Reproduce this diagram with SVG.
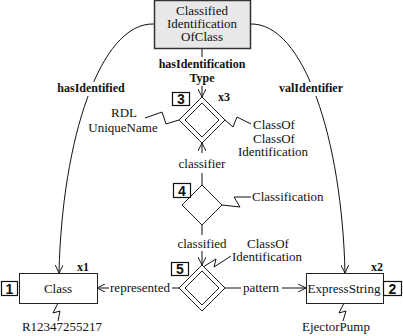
<svg xmlns="http://www.w3.org/2000/svg" width="403" height="336" viewBox="0 0 403 336" font-family="Liberation Serif, serif">
<style>
text{font-family:'Liberation Serif',serif;font-size:13px;fill:#111}
text.b{font-weight:bold;font-size:12px}
text.halo{stroke:#fff;stroke-width:8px;paint-order:stroke;stroke-linejoin:round}
text.num{font-family:'Liberation Sans',sans-serif;font-weight:bold;font-size:14px}
.ln{fill:none;stroke:#111;stroke-width:1}
.box{fill:#fff;stroke:#222;stroke-width:1}
.nb{fill:#fff;stroke:#111;stroke-width:1.2}
.dia{fill:#fff;stroke:#222;stroke-width:1}
</style>
<defs>
<marker id="arr" viewBox="0 0 10 10" refX="10" refY="5" markerWidth="8" markerHeight="8" markerUnits="userSpaceOnUse" orient="auto">
<path d="M0,0 L10,5 L0,10" fill="none" stroke="#111" stroke-width="1.2"/>
</marker>
</defs>
<g id="connectors">
<path class="ln" d="M154,24 C100,22 62,140 59,273" marker-end="url(#arr)"/>
<path class="ln" d="M250,24 C304,22 342,140 345,273" marker-end="url(#arr)"/>
<path class="ln" d="M202,48 V57"/>
<path class="ln" d="M202,86 V97" marker-end="url(#arr)"/>
<path class="ln" d="M202,185 V173"/>
<path class="ln" d="M202,153 V143" marker-end="url(#arr)"/>
<path class="ln" d="M202,225 V235"/>
<path class="ln" d="M202,251 V265" marker-end="url(#arr)"/>
<path class="ln" d="M179,288 H172"/>
<path class="ln" d="M109,288 H97" marker-end="url(#arr)"/>
<path class="ln" d="M225,288 H241"/>
<path class="ln" d="M282,288 H306" marker-end="url(#arr)"/>
<path class="ln" d="M179,120 L166,124 L162,112 L145,118"/>
<path class="ln" d="M225,120 L233,127 L237,117 L251,124"/>
<path class="ln" d="M222,205 L240,207 L234,197 L251,197"/>
<path class="ln" d="M203,267 L216,259 L214,267 L231,256"/>
<path class="ln" d="M58,303 L53,313 L60,311 L58,321"/>
<path class="ln" d="M344,303 L339,313 L346,311 L343,321"/>
<text class="b halo" x="91" y="92" text-anchor="middle">hasIdentified</text>
<text class="b halo" x="311" y="92" text-anchor="middle">valIdentifier</text>
<text class="b" x="202" y="68" text-anchor="middle">hasIdentification</text>
<text class="b" x="202" y="82" text-anchor="middle">Type</text>
<text x="202" y="168" text-anchor="middle">classifier</text>
<text x="202" y="248" text-anchor="middle">classified</text>
<text x="140" y="292" text-anchor="middle">represented</text>
<text x="261" y="292" text-anchor="middle">pattern</text>
</g>
<g id="n0">
<rect x="154.5" y="0.5" width="96" height="48" fill="#e8e8e8" stroke="#333" stroke-width="1.5"/>
<text x="202" y="15" text-anchor="middle">Classified</text>
<text x="202" y="28" text-anchor="middle">Identification</text>
<text x="202" y="41" text-anchor="middle">OfClass</text>
</g>
<g id="n3">
<path class="dia" d="M202,97 L225,120 L202,143 L179,120 Z"/>
<path class="dia" d="M202,103 L219,120 L202,137 L185,120 Z"/>
<rect class="nb" x="172.5" y="92.5" width="17" height="13"/>
<text class="num" x="181" y="104" text-anchor="middle">3</text>
<text class="b" x="218" y="101">x3</text>
<text x="124" y="117" text-anchor="middle">RDL</text>
<text x="123" y="132" text-anchor="middle">UniqueName</text>
<text x="274" y="129" text-anchor="middle">ClassOf</text>
<text x="274" y="143" text-anchor="middle">ClassOf</text>
<text x="273" y="156" text-anchor="middle">Identification</text>
</g>
<g id="n4">
<path class="dia" d="M202,185 L222,205 L202,225 L182,205 Z"/>
<rect class="nb" x="173.5" y="183.5" width="17" height="14"/>
<text class="num" x="182" y="196" text-anchor="middle">4</text>
<text x="252" y="201">Classification</text>
</g>
<g id="n5">
<path class="dia" d="M202,265 L225,288 L202,311 L179,288 Z"/>
<path class="dia" d="M202,271 L219,288 L202,305 L185,288 Z"/>
<rect class="nb" x="171.5" y="262.5" width="17" height="13"/>
<text class="num" x="180" y="274" text-anchor="middle">5</text>
<text x="268" y="248" text-anchor="middle">ClassOf</text>
<text x="232" y="261">Identification</text>
</g>
<g id="n1">
<rect class="box" x="19.5" y="273.5" width="78" height="30"/>
<text x="58" y="293" text-anchor="middle">Class</text>
<rect class="nb" x="1.5" y="281.5" width="16" height="14"/>
<text class="num" x="9.5" y="294" text-anchor="middle">1</text>
<text class="b" x="83" y="271" text-anchor="middle">x1</text>
<text x="62" y="331" text-anchor="middle">R12347255217</text>
</g>
<g id="n2">
<rect class="box" x="306.5" y="273.5" width="77" height="30"/>
<text x="344" y="293" text-anchor="middle">ExpressString</text>
<rect class="nb" x="383.5" y="281.5" width="18" height="14"/>
<text class="num" x="392.5" y="294" text-anchor="middle">2</text>
<text class="b" x="377" y="271" text-anchor="middle">x2</text>
<text x="336" y="331" text-anchor="middle">EjectorPump</text>
</g>
</svg>
